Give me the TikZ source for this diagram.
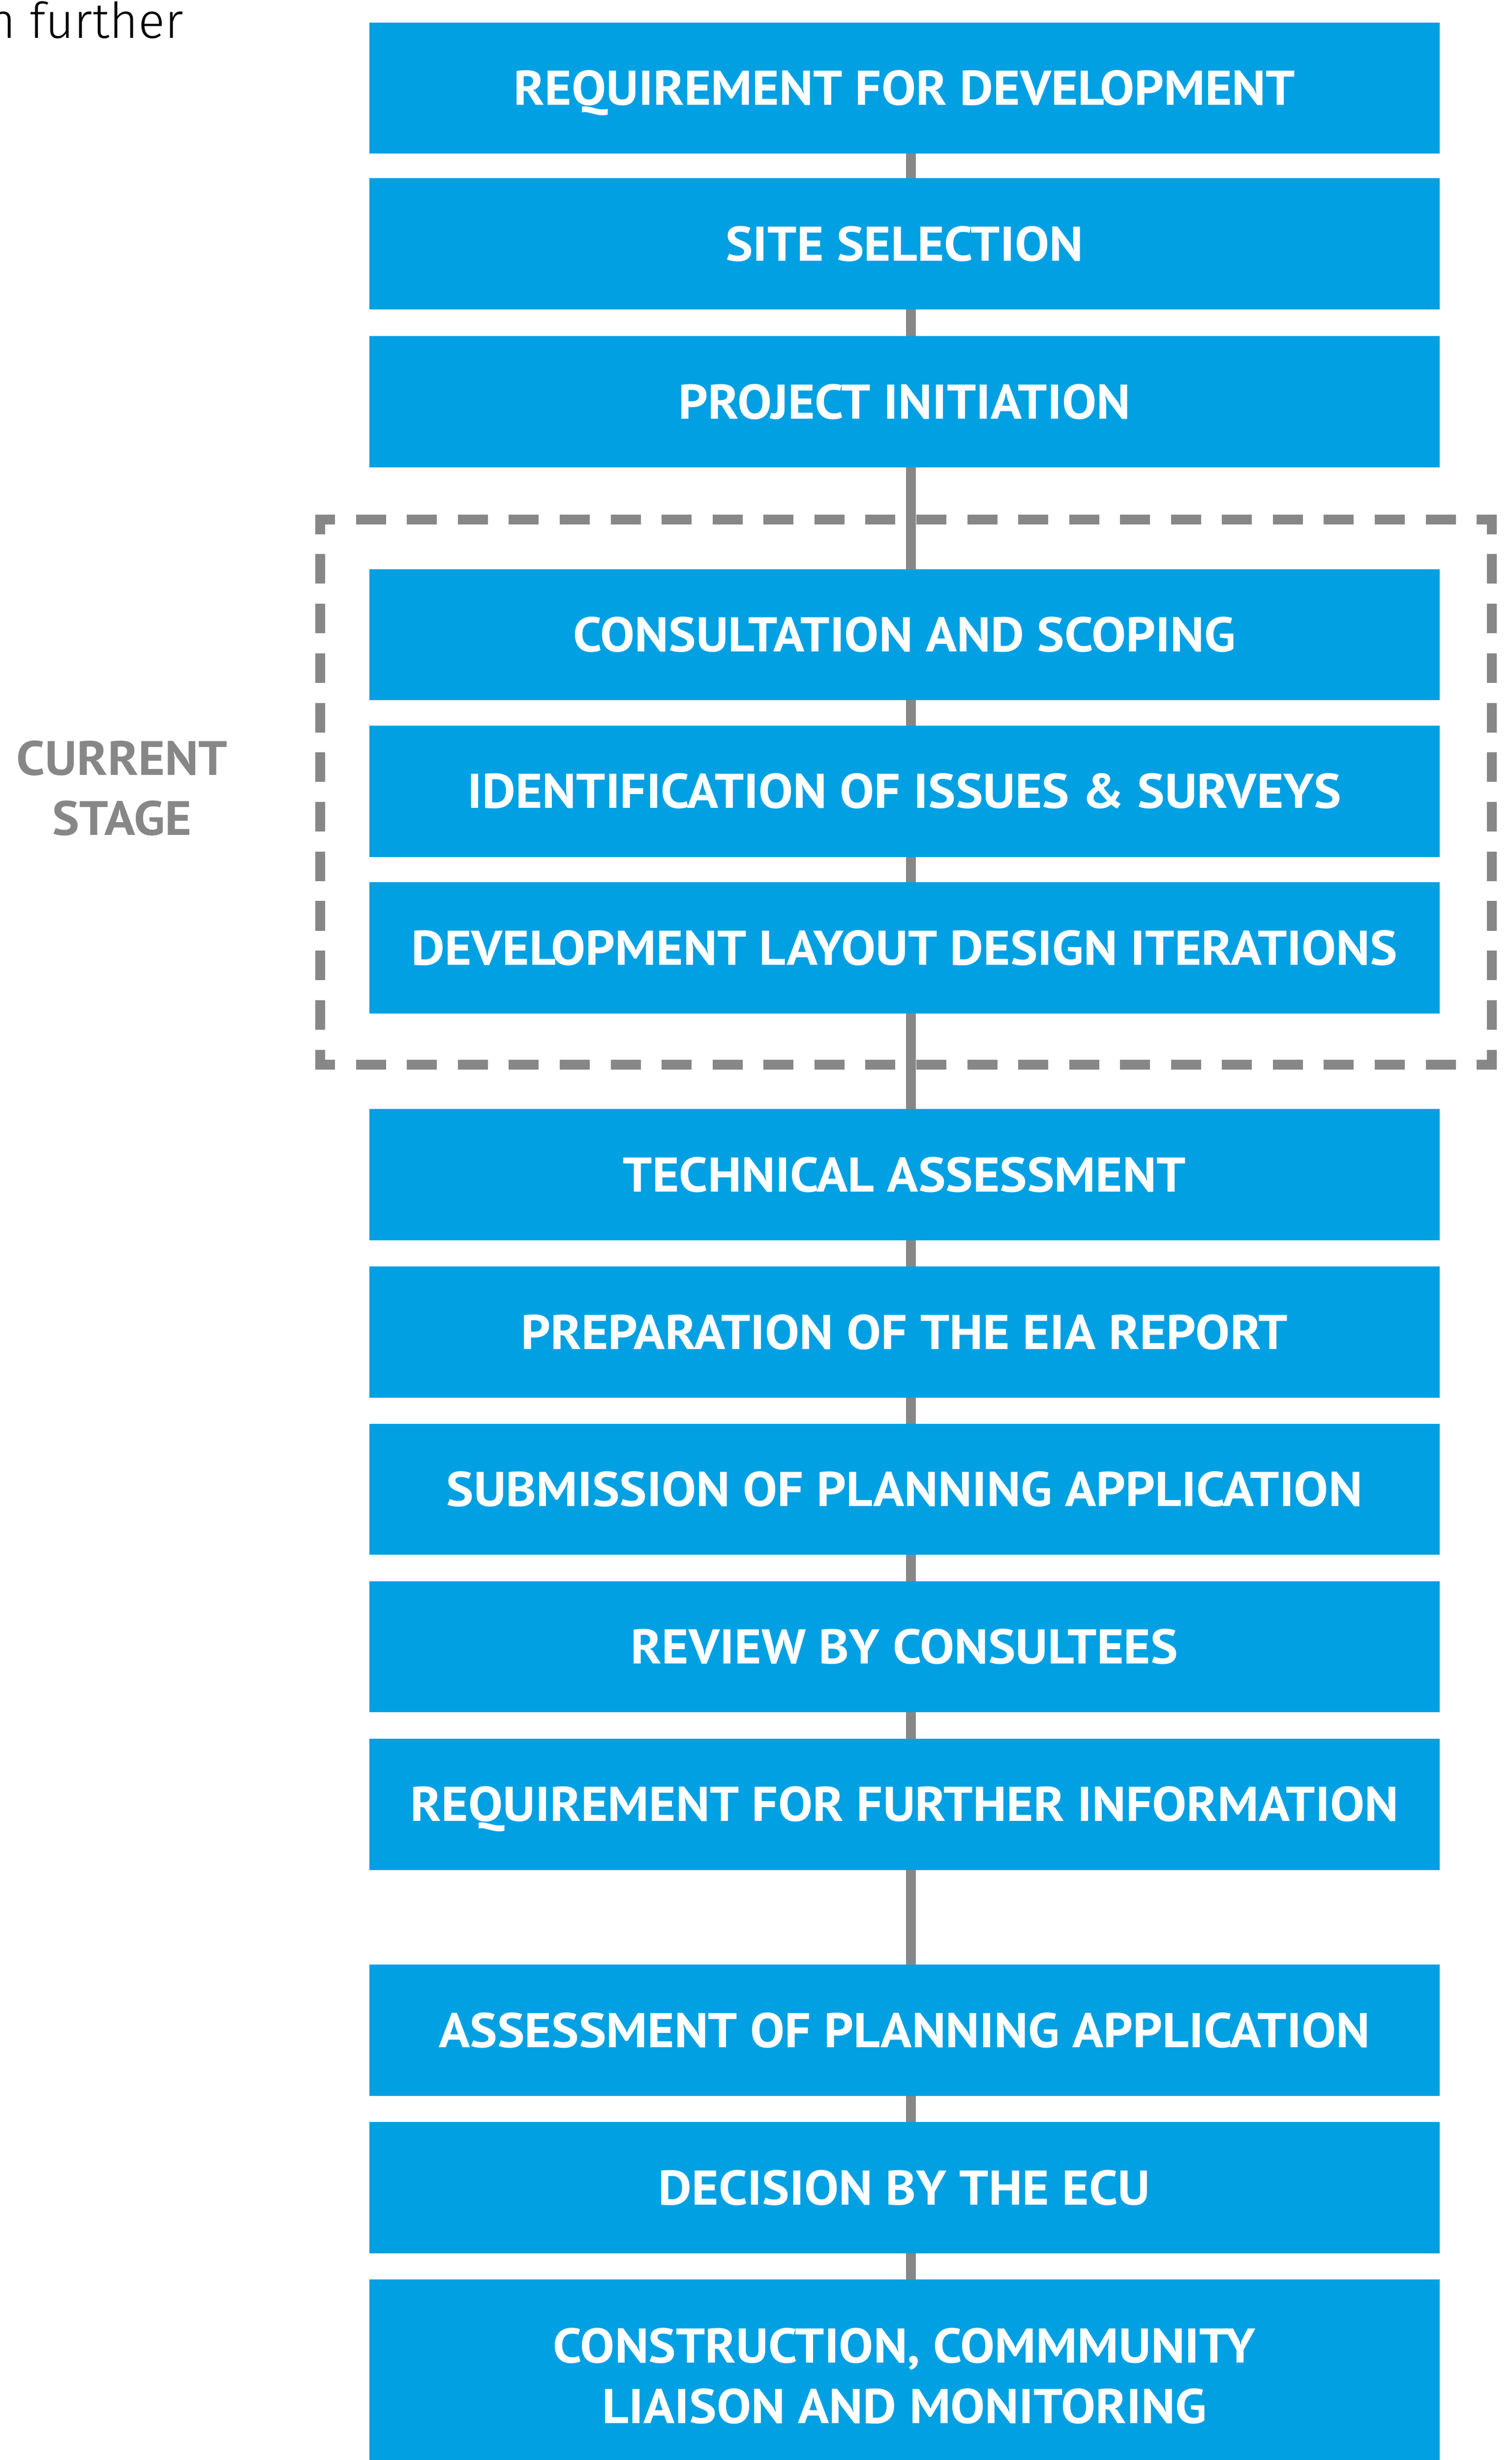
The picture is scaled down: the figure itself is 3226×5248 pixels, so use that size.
\documentclass[tikz,border=0pt]{standalone}
\usepackage{fontspec}
\setmainfont{PT Sans}[BoldFeatures={FakeStretch=1.057}]
\newfontfamily\lightfont{Fira Sans Light}
\definecolor{boxblue}{RGB}{0,160,227}
\definecolor{linegray}{RGB}{135,135,135}
\begin{document}
\begin{tikzpicture}[x=0.2pt,y=-0.2pt,
  boxbase/.style={fill=boxblue, text=white, minimum width=456.8pt, inner sep=0pt, outer sep=0pt,
    font=\fontsize{20.8}{25.8}\selectfont\bfseries, align=center},
  stepbox/.style={boxbase, minimum height=56pt, text height=14.56pt, text depth=0pt},
  tallbox/.style={boxbase, minimum height=82.2pt},
  conn/.style={draw=linegray, line width=4.2pt},
  dashH/.style={draw=linegray, line width=4.2pt, line cap=rect, dash pattern=on 8.6pt off 13.139pt, dash phase=4.3pt},
  dashV/.style={draw=linegray, line width=4.2pt, line cap=rect, dash pattern=on 8.4pt off 12.745pt, dash phase=4.2pt},
  stagelabel/.style={text=linegray, font=\fontsize{20.6}{25.6}\selectfont\bfseries, align=center, inner sep=0pt},
  cuttext/.style={anchor=base east, inner sep=0pt, font=\lightfont\fontsize{21.1}{25}\selectfont}
]
\useasboundingbox (0,0) rectangle (3226,5248);

% cropped text at top left
\node[cuttext] (further) at (392,81) {n further};

% process steps
\node[stepbox] (b1)  at (1930,188)  {REQUIREMENT FOR DEVELOPMENT};
\node[stepbox] (b2)  at (1930,520)  {SITE SELECTION};
\node[stepbox] (b3)  at (1930,857)  {PROJECT INITIATION};
\node[stepbox] (b4)  at (1930,1354) {CONSULTATION AND SCOPING};
\node[stepbox] (b5)  at (1930,1688) {IDENTIFICATION OF ISSUES \& SURVEYS};
\node[stepbox] (b6)  at (1930,2022) {DEVELOPMENT LAYOUT DESIGN ITERATIONS};
\node[stepbox] (b7)  at (1930,2506) {TECHNICAL ASSESSMENT};
\node[stepbox] (b8)  at (1930,2842) {PREPARATION OF THE EIA REPORT};
\node[stepbox] (b9)  at (1930,3177) {SUBMISSION OF PLANNING APPLICATION};
\node[stepbox] (b10) at (1930,3513) {REVIEW BY CONSULTEES};
\node[stepbox] (b11) at (1930,3849) {REQUIREMENT FOR FURTHER INFORMATION};
\node[stepbox] (b12) at (1930,4331) {ASSESSMENT OF PLANNING APPLICATION};
\node[stepbox] (b13) at (1930,4667) {DECISION BY THE ECU};
\node[tallbox] (b14) at (1930,5068.5) {CONSTRUCTION, COMMMUNITY\\LIAISON AND MONITORING};

% connectors
\foreach \a/\b in {b1/b2,b2/b3,b3/b4,b4/b5,b5/b6,b6/b7,b7/b8,b8/b9,b9/b10,b10/b11,b11/b12,b12/b13,b13/b14}
  \draw[conn] ([xshift=2.7pt]\a.south) -- ([xshift=2.7pt]\b.north);

% current stage frame
\coordinate (fTL) at (683,1108);
\coordinate (fTR) at (3183,1108);
\coordinate (fBL) at (683,2271);
\coordinate (fBR) at (3183,2271);
\draw[dashH] (fTL) -- (fTR);
\draw[dashH] (fBL) -- (fBR);
\draw[dashV] (fTL) -- (fBL);
\draw[dashV] (fTR) -- (fBR);

\node[stagelabel] (stage) at (260.5,1682) {CURRENT\\STAGE};
\end{tikzpicture}
\end{document}
